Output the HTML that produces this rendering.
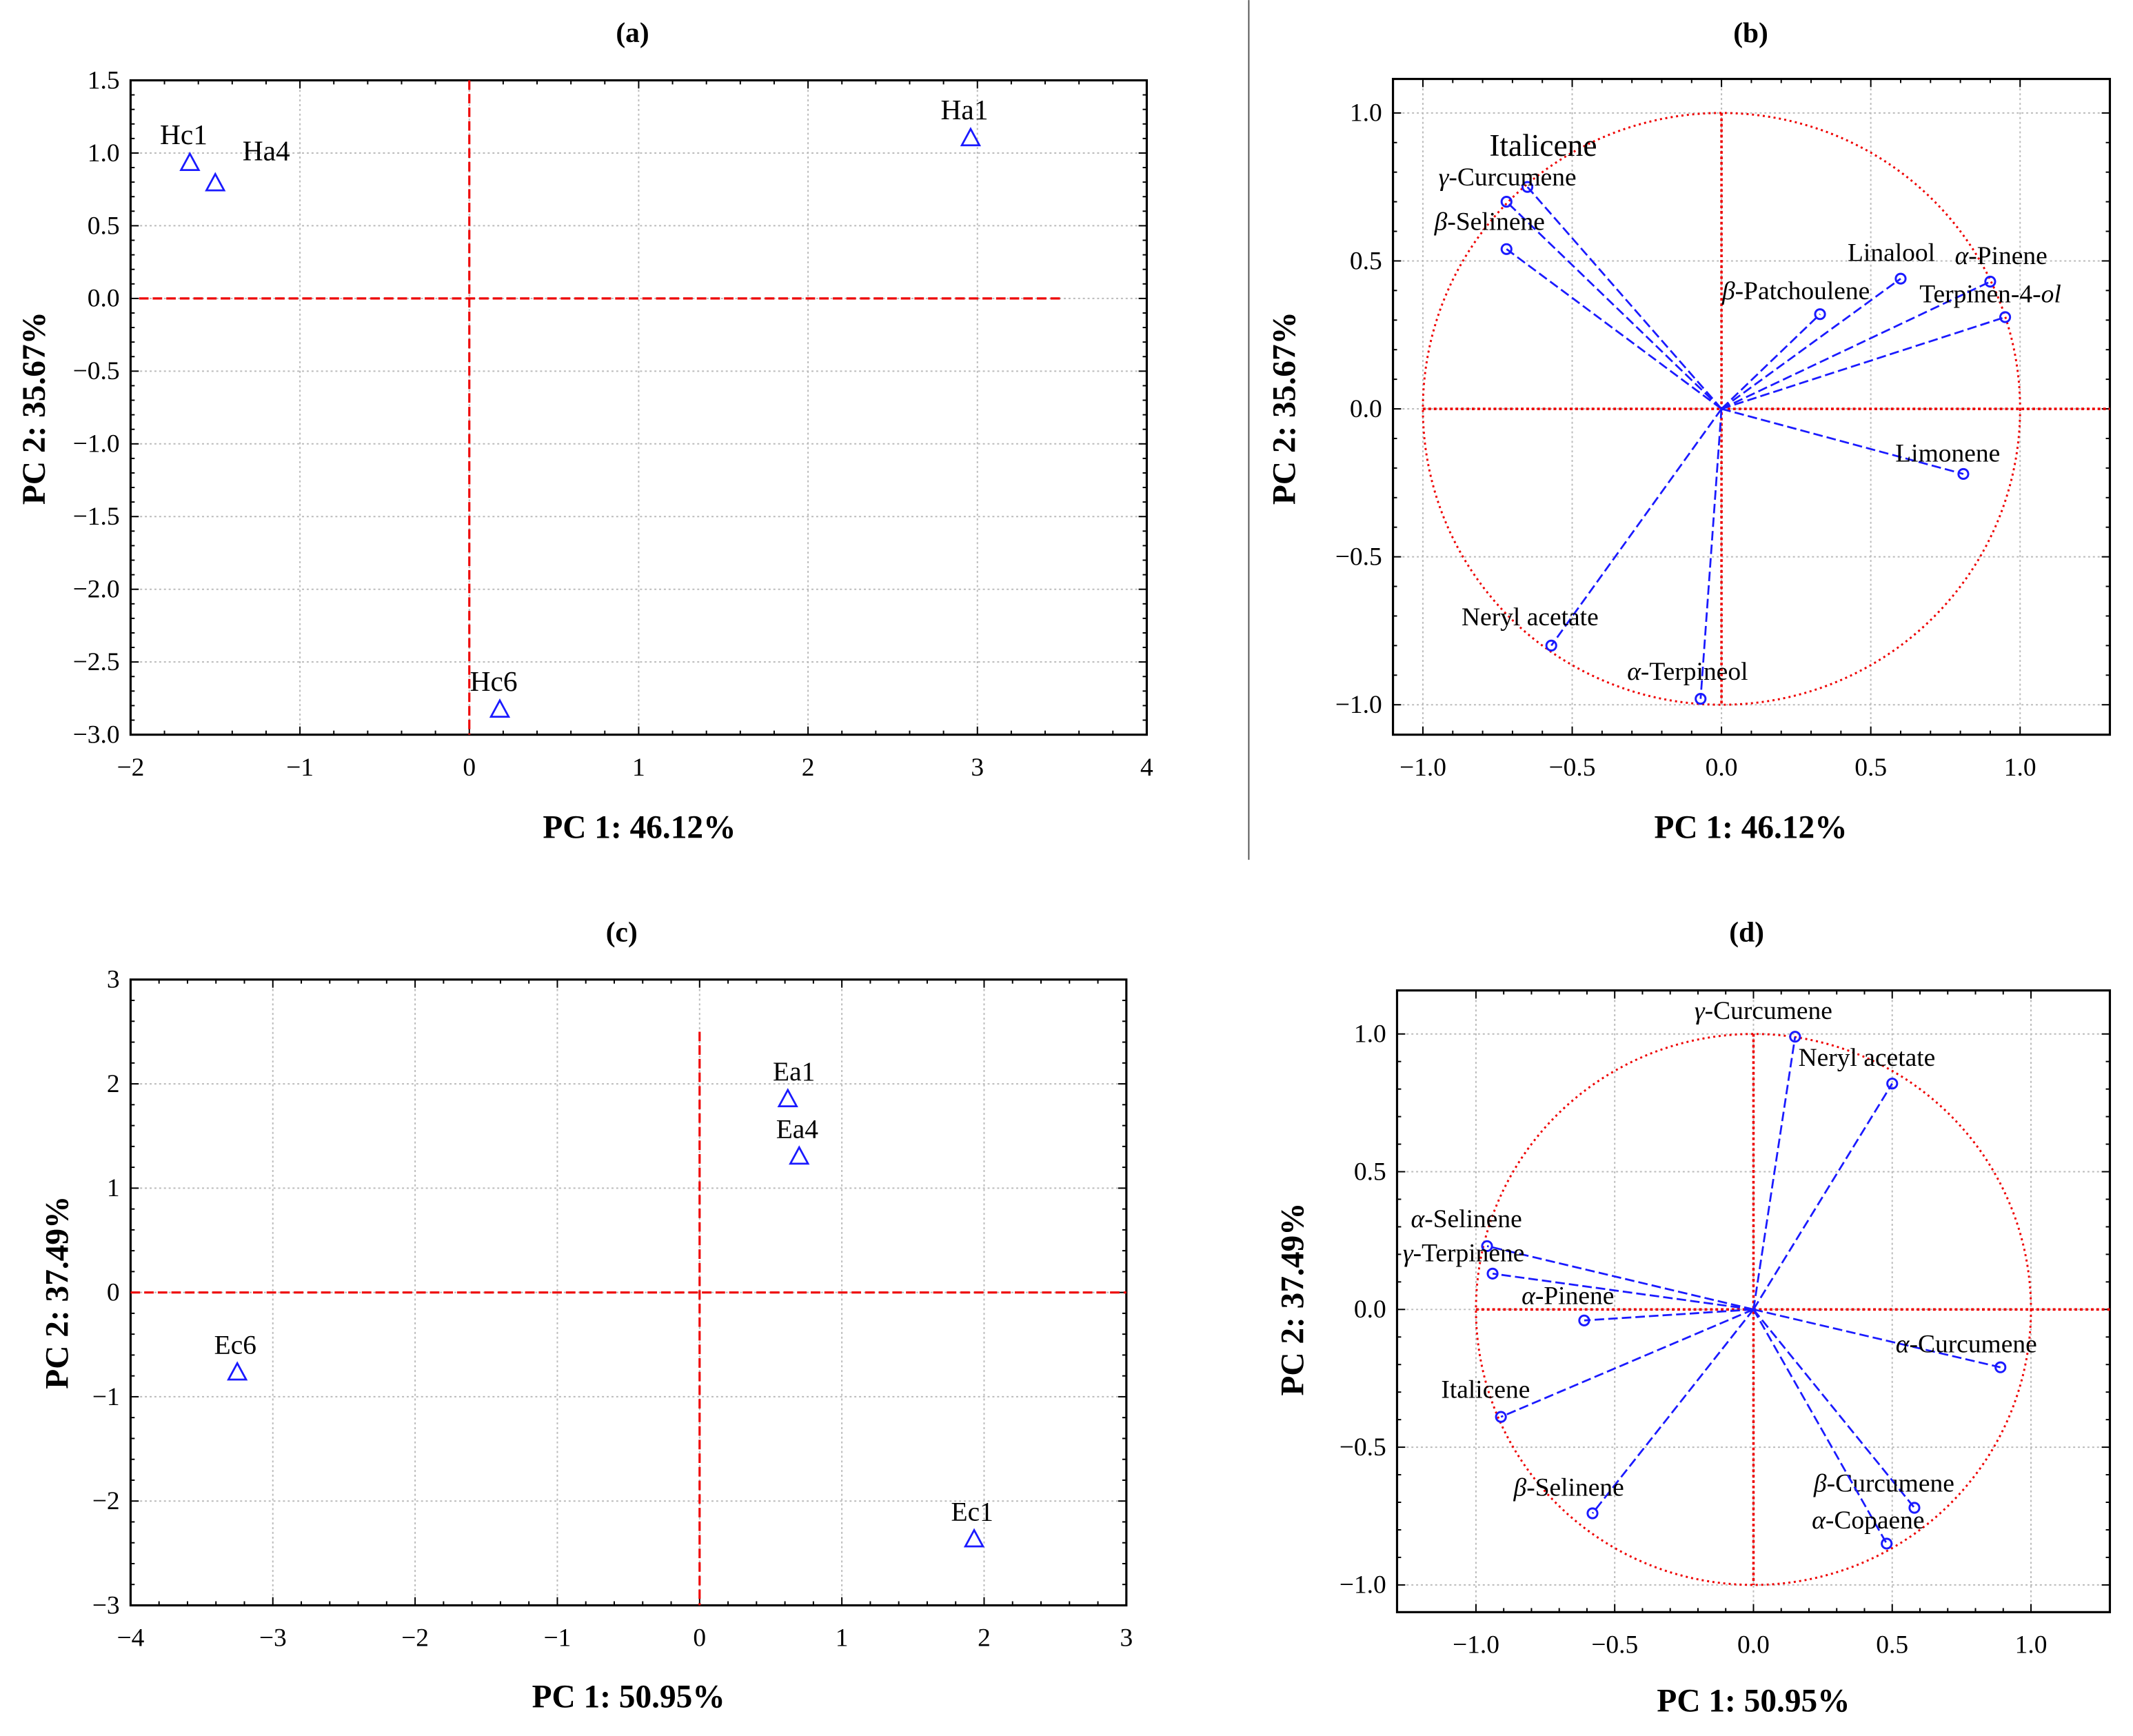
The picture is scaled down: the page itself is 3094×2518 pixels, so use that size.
<!DOCTYPE html>
<html><head><meta charset="utf-8"><style>html,body{margin:0;padding:0;background:#fff}svg{display:block}text{font-family:"Liberation Serif",serif}</style></head>
<body>
<svg id="fig" xmlns="http://www.w3.org/2000/svg" width="3094" height="2518" viewBox="0 0 1568 1276">
<rect width="1568" height="1276" fill="#fff"/>
<line x1="918" y1="0" x2="918" y2="632" stroke="#555" stroke-width="1"/>
</svg>
<script>
// ---- data ----
const aNames=["Hc1","Ha4","Ha1","Hc6"];
const aX=[-1.65,-1.5,2.96,0.18];
const aY=[0.93,0.79,1.1,-2.83];
const cNames=["Ea1","Ea4","Ec6","Ec1"];
const cX=[0.62,0.70,-3.25,1.93];
const cY=[1.85,1.3,-0.77,-2.37];
const bNames=["Italicene","γ-Curcumene","β-Selinene","Linalool","α-Pinene","β-Patchoulene","Terpinen-4-ol","Limonene","Neryl acetate","α-Terpineol"];
const bX=[-0.65,-0.72,-0.72,0.60,0.90,0.33,0.95,0.81,-0.57,-0.07];
const bY=[0.75,0.70,0.54,0.44,0.43,0.32,0.31,-0.22,-0.80,-0.98];
const dNames=["γ-Curcumene","Neryl acetate","α-Selinene","γ-Terpinene","α-Pinene","α-Curcumene","Italicene","β-Selinene","β-Curcumene","α-Copaene"];
const dX=[0.15,0.50,-0.96,-0.94,-0.61,0.89,-0.91,-0.58,0.58,0.48];
const dY=[0.99,0.82,0.23,0.13,-0.04,-0.21,-0.39,-0.74,-0.72,-0.85];
const aXTicks=[-2,-1,0,1,2,3,4];
const aYTicks=[1.5,1.0,0.5,0.0,-0.5,-1.0,-1.5,-2.0,-2.5,-3.0];
const cXTicks=[-4,-3,-2,-1,0,1,2,3];
const cYTicks=[3,2,1,0,-1,-2,-3];
const lXTicks=[-1.0,-0.5,0.0,0.5,1.0];
const lYTicks=[1.0,0.5,0.0,-0.5,-1.0];
// label layout (pixel offsets relative to marker, not data)
const bLab=[[-28,-23,23],[-50,-12],[-53,-14],[-39,-13],[-26,-13],[-72,-11],[-63,-11],[-50,-9],[-66,-15],[-54,-14]];
const dLab=[[-74,-13],[-69,-13],[-56,-14],[-66,-9],[-46,-12],[-77,-11],[-44,-14],[-58,-13],[-74,-12],[-55,-11]];
const aLab=[[-22,-14],[20,-17],[-22,-14],[-22,-14]];
const cLab=[[-11,-14],[-17,-14],[-17,-14],[-17,-14]];

const NS="http://www.w3.org/2000/svg";
const svg=document.getElementById('fig');
function mk(tag,attrs,parent){const e=document.createElementNS(NS,tag);for(const k in attrs)e.setAttribute(k,attrs[k]);(parent||svg).appendChild(e);return e;}
function fmt(v,dec){return (v<0?"\u2212":"")+Math.abs(v).toFixed(dec);}

function panel(o){
  const g=mk('g',{});
  
  
  const sx=v=>o.x0px+(v-o.x0)*(o.x1px-o.x0px)/(o.x1-o.x0);
  const sy=v=>o.y0px+(v-o.y0)*(o.y1px-o.y0px)/(o.y1-o.y0);
  o.xt.forEach(t=>{const gl=mk('line',{x1:sx(t),x2:sx(t),y1:o.box[1],y2:o.box[3],stroke:'#bbb','stroke-width':1,'stroke-dasharray':'1.5 2'},g);});
  o.yt.forEach(t=>{const gl=mk('line',{y1:sy(t),y2:sy(t),x1:o.box[0],x2:o.box[2],stroke:'#bbb','stroke-width':1,'stroke-dasharray':'1.5 2'},g);});
  const fr=mk('rect',{x:o.box[0],y:o.box[1],width:o.box[2]-o.box[0],height:o.box[3]-o.box[1],fill:'none',stroke:'#000','stroke-width':1.6},g);
  
  o.xt.forEach(t=>{
    const x=sx(t);
    mk('line',{x1:x,x2:x,y1:o.box[3],y2:o.box[3]-6,stroke:'#000'},g);
    mk('line',{x1:x,x2:x,y1:o.box[1],y2:o.box[1]+6,stroke:'#000'},g);
    const tx=mk('text',{x:x,y:o.box[3]+30,'text-anchor':'middle','font-size':o.tfs},g);tx.textContent=fmt(t,o.xdec);
    
  });
  o.yt.forEach(t=>{
    const y=sy(t);
    mk('line',{x1:o.box[0],x2:o.box[0]+6,y1:y,y2:y,stroke:'#000'},g);
    mk('line',{x1:o.box[2],x2:o.box[2]-6,y1:y,y2:y,stroke:'#000'},g);
    const tx=mk('text',{x:o.box[0]-8,y:y+6,'text-anchor':'end','font-size':o.tfs},g);tx.textContent=fmt(t,o.ydec);
    
  });
  const nm=o.minor;
  for(let i=0;i<o.xt.length-1;i++){for(let k=1;k<nm;k++){const x=sx(o.xt[i]+(o.xt[i+1]-o.xt[i])*k/nm);mk('line',{x1:x,x2:x,y1:o.box[3],y2:o.box[3]-3,stroke:'#000'},g);mk('line',{x1:x,x2:x,y1:o.box[1],y2:o.box[1]+3,stroke:'#000'},g);}}
  for(let i=0;i<o.yt.length-1;i++){for(let k=1;k<nm;k++){const y=sy(o.yt[i]+(o.yt[i+1]-o.yt[i])*k/nm);mk('line',{x1:o.box[0],x2:o.box[0]+3,y1:y,y2:y,stroke:'#000'},g);mk('line',{x1:o.box[2],x2:o.box[2]-3,y1:y,y2:y,stroke:'#000'},g);}}
  const t=mk('text',{x:o.title[0],y:o.title[1],'text-anchor':'middle','font-size':21,'font-weight':'bold'},g);t.textContent=o.titleText;
  
  const xl=mk('text',{x:o.xlab[0],y:o.xlab[1],'text-anchor':'middle','font-size':24,'font-weight':'bold'},g);xl.textContent=o.xlabText;
  
  const yl=mk('text',{x:0,y:0,'text-anchor':'middle','font-size':24,'font-weight':'bold',transform:`translate(${o.ylab[0]},${o.ylab[1]}) rotate(-90)`},g);yl.textContent=o.ylabText;
  
  if(o.loadings){
    const cx=sx(0),cy=sy(0);
    const c=mk('ellipse',{cx:cx,cy:cy,rx:sx(1)-cx,ry:cy-sy(1),fill:'none',stroke:'#e00','stroke-width':1.5,'stroke-dasharray':'1.5 2.5'},g);
    
    mk('line',{x1:sx(-1),x2:o.box[2],y1:cy,y2:cy,stroke:'#e00','stroke-width':1.8,'stroke-dasharray':'2 2'},g);
    mk('line',{x1:cx,x2:cx,y1:sy(1),y2:sy(-1),stroke:'#e00','stroke-width':1.8,'stroke-dasharray':'2 2'},g);
  } else {
    const h=mk('line',{x1:sx(o.hx[0]),x2:sx(o.hx[1]),y1:sy(0),y2:sy(0),stroke:'#e00','stroke-width':1.6,'stroke-dasharray':'7 3'},g);
    
    const v=mk('line',{x1:sx(0),x2:sx(0),y1:sy(o.vy[0]),y2:sy(o.vy[1]),stroke:'#e00','stroke-width':1.6,'stroke-dasharray':'7 3'},g);
    
  }
  o.names.forEach((n,i)=>{
    const px=sx(o.X[i]),py=sy(o.Y[i]);
    const lab=o.lab[i];
    if(o.loadings){
      const ln=mk('line',{x1:sx(0),y1:sy(0),x2:px,y2:py,stroke:'#1a1aff','stroke-width':1.4,'stroke-dasharray':'7 3'},g);
      
      const m=mk('circle',{cx:px,cy:py,r:3.6,fill:'none',stroke:'#1a1aff','stroke-width':1.5},g);
      
    } else {
      const m=mk('path',{d:`M${px},${py-7}L${px+6.5},${py+5}L${px-6.5},${py+5}Z`,fill:'none',stroke:'#1a1aff','stroke-width':1.4},g);
      
    }
    const tx=mk('text',{x:px+lab[0],y:py+lab[1],'font-size':lab[2]||o.lfs},g);
    const parts=n.match(/^([αβγ])(.*)$/);
    if(parts){const s=mk('tspan',{'font-style':'italic'},tx);s.textContent=parts[1];const r=mk('tspan',{},tx);r.textContent=parts[2];}
    else if(n==="Terpinen-4-ol"){const r=mk('tspan',{},tx);r.textContent="Terpinen-4-";const s=mk('tspan',{'font-style':'italic'},tx);s.textContent="ol";}
    else tx.textContent=n;
    
  });
}

panel({name:'panel-a-scores',box:[96,59,843,540],x0:-2,x1:4,x0px:96,x1px:843,y0:1.5,y1:-3,y0px:59,y1px:540,
  xt:aXTicks,yt:aYTicks,xdec:0,ydec:1,tfs:19,lfs:21,minor:5,title:[465,31],titleText:'(a)',xlab:[470,616],xlabText:'PC 1: 46.12%',
  ylab:[33,300],ylabText:'PC 2: 35.67%',hx:[-1.95,3.5],vy:[1.5,-3],names:aNames,X:aX,Y:aY,lab:aLab});
panel({name:'panel-b-loadings',loadings:true,box:[1024,58,1551,540],x0:-1,x1:1,x0px:1046,x1px:1485,y0:1,y1:-1,y0px:83,y1px:518,
  xt:lXTicks,yt:lYTicks,xdec:1,ydec:1,tfs:19,lfs:19,minor:5,title:[1287,31],titleText:'(b)',xlab:[1287,616],xlabText:'PC 1: 46.12%',
  ylab:[952,300],ylabText:'PC 2: 35.67%',names:bNames,X:bX,Y:bY,lab:bLab});
panel({name:'panel-c-scores',box:[96,720,828,1180],x0:-4,x1:3,x0px:96,x1px:828,y0:3,y1:-3,y0px:720,y1px:1180,
  xt:cXTicks,yt:cYTicks,xdec:0,ydec:0,tfs:19,lfs:20,minor:5,title:[457,692],titleText:'(c)',xlab:[462,1255],xlabText:'PC 1: 50.95%',
  ylab:[50,950],ylabText:'PC 2: 37.49%',hx:[-4,3],vy:[2.5,-3],names:cNames,X:cX,Y:cY,lab:cLab});
panel({name:'panel-d-loadings',loadings:true,box:[1027,728,1551,1185],x0:-1,x1:1,x0px:1085,x1px:1493,y0:1,y1:-1,y0px:760,y1px:1165,
  xt:lXTicks,yt:lYTicks,xdec:1,ydec:1,tfs:19,lfs:19,minor:5,title:[1284,692],titleText:'(d)',xlab:[1289,1258],xlabText:'PC 1: 50.95%',
  ylab:[958,955],ylabText:'PC 2: 37.49%',names:dNames,X:dX,Y:dY,lab:dLab});
</script>
</body></html>
